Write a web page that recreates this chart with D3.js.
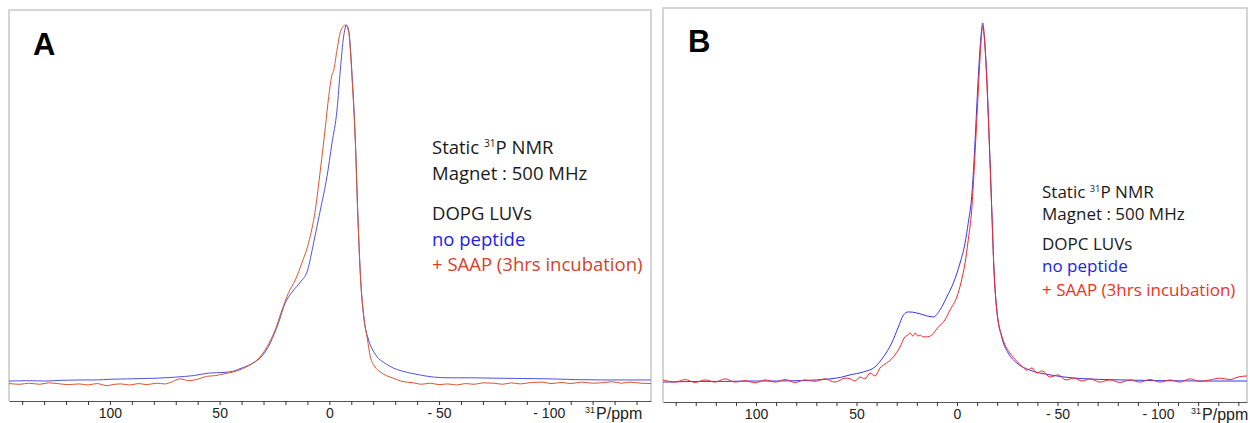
<html>
<head>
<script src="https://d3js.org/d3.v7.min.js"></script>
<style>
  body { margin: 0; background: #fff; }
  .tick text { font-family: "Liberation Sans", Arial, sans-serif; font-size: 14px; fill: #222; }
  .tick line { stroke: #333; }
  .domain { stroke: #555; }
  .legend { font-family: "Open Sans", sans-serif; }
</style>
</head>
<body>
<svg id="chart" width="1250" height="423"></svg>
<script>
// x ticks (ppm) and labelled ticks
const tickValues = d3.range(-140, 141, 10);
const tickLabels = [100, 50, 0, -50, -100];

// Panel A (DOPG LUVs) : [ppm, relative intensity]
const dopgNoPeptide = [
  [146, 1.1], [138, 1.2], [130, 1.1], [122, 1.3], [114, 1.4], [106, 1.4], [100, 1.6], [92, 1.7],
  [85, 1.8], [78, 1.9], [70, 2.2], [62, 2.6], [55, 3.3], [48, 3.5], [44, 3.8], [40, 4.7], [37, 5.4],
  [34, 6.4], [31.5, 7.5], [26.9, 11.7], [23.2, 17.2], [20.1, 22.8], [17, 25.8], [13.2, 28.6],
  [9.9, 31.9], [7.2, 39.4], [4.1, 48.6], [1.1, 57.8], [-1.2, 67.2], [-3.5, 76.4], [-5, 87.5],
  [-6.5, 96.7], [-7.8, 100], [-8.8, 98.6], [-10.4, 85.6], [-11.9, 67.2], [-12.9, 48.6], [-14.2, 30],
  [-15.7, 18.9], [-17.9, 12.5], [-20, 9.5], [-21.8, 7.8], [-23.3, 6.9], [-26, 5.8], [-29.2, 4.7],
  [-33, 3.9], [-37, 3.3], [-42, 2.7], [-47.5, 2.2], [-55, 2.0], [-65, 2.0], [-75, 1.9], [-88, 1.8],
  [-101, 1.7], [-112, 1.5], [-124, 1.4], [-135, 1.4], [-146.6, 1.4]
];
const dopgSaap = [
  [146, 0.4], [141, 0.2], [137, 0.5], [132, 0.2], [128, 0.6], [124, 0.4], [119, 0.1], [114, 0.3],
  [110, 0.0], [106, 0.4], [101, -0.2], [99, 0.1], [95, 0.3], [91, 0.0], [87, 0.4], [83, 0.1],
  [79, 0.5], [75, 0.3], [72, 0.8], [68, 1.7], [64, 1.2], [60, 1.6], [56, 2.4], [52, 2.6], [48, 3.1],
  [44, 3.6], [40, 4.4], [37, 5.3], [33, 6.9], [28.4, 10.6], [24.7, 15.3], [21.6, 20.8], [18.6, 25.6],
  [15.5, 29.2], [12.5, 33.9], [9.5, 39.4], [6.4, 48.6], [4.1, 59.7], [1.8, 71.7], [0.3, 80.1],
  [-1.2, 86.1], [-2, 87.5], [-3.5, 93.1], [-5.3, 98.6], [-7.4, 100], [-8.8, 98.1], [-10.4, 84.7],
  [-11.9, 66.7], [-12.9, 48.6], [-14.2, 30], [-15.7, 18.9], [-17.2, 13.3], [-18.7, 7.8], [-20.5, 5.3],
  [-23.3, 3.6], [-26, 2.6], [-29.2, 1.9], [-33, 1.0], [-38.4, 0.6], [-42, 0.2], [-46, 0.5], [-50, 0.1],
  [-54, 0.3], [-58, 0.0], [-62, 0.4], [-66, 0.2], [-70, 0.6], [-75, 0.5], [-79, 0.2], [-83, 0.6],
  [-87, 0.3], [-92, 0.7], [-97, 0.8], [-101, 0.4], [-106, 0.7], [-110, 0.4], [-115, 0.8], [-120, 0.5],
  [-124, 0.6], [-129, 0.9], [-133, 0.5], [-137, 0.8], [-142, 0.5], [-146.6, 0.4]
];

// Panel B (DOPC LUVs)
const dopcNoPeptide = [
  [146.3, 0.8], [138, 0.9], [128, 1.0], [115, 1.0], [103, 1.1], [90, 1.1], [78, 1.2], [70, 1.4],
  [63.2, 1.7], [58, 2.1], [53.2, 2.8], [46.6, 3.6], [40.8, 5], [36.7, 7.7], [32.5, 11.6], [29.2, 16],
  [26.7, 19.3], [24.2, 20.2], [20, 19.9], [15.1, 19.1], [11.8, 18.8], [8.5, 20.7], [5.1, 24.3],
  [1.8, 28.2], [-1.5, 33.7], [-4, 39.2], [-5.6, 44.8], [-7.3, 52], [-8.5, 62.2], [-9.5, 73.2],
  [-10.6, 85.2], [-11.9, 96.2], [-12.8, 100], [-13.6, 96.2], [-14.8, 85.2], [-16.1, 66.9],
  [-17.3, 48.3], [-18.4, 31.8], [-19.8, 20.7], [-22.2, 13.3], [-25.5, 8.8], [-29.7, 6.1],
  [-36.3, 4.1], [-46.3, 2.8], [-61.2, 1.8], [-81.1, 1.4], [-101, 1.2], [-120.9, 1.1], [-144.3, 1.1]
];
const dopcSaap = [
  [146.3, 1.4], [140.3, 0.8], [135.3, 1.5], [130.3, 0.7], [125.4, 1.4], [120.4, 0.8], [115.4, 1.7],
  [110.4, 0.8], [105.5, 1.2], [100.5, 0.6], [95.5, 1.4], [90.5, 0.8], [85.6, 1.5], [80.6, 0.7],
  [75.6, 1.4], [70.6, 1.0], [65.7, 1.7], [60.7, 0.8], [55.7, 1.9], [53.2, 1.7], [50.7, 1.1],
  [48.3, 2.2], [45.8, 1.7], [43.3, 3.3], [40.8, 2.5], [38.3, 4.7], [35, 6.1], [31.7, 7.7], [28.4, 10.5],
  [25.9, 13.3], [24.4, 13.8], [23.4, 14.4], [21.9, 13.5], [20.9, 14.4], [19.4, 13.5], [18.4, 13.8],
  [16.9, 13.3], [15.1, 13.3], [12.6, 13.8], [9.3, 16], [6, 18], [3.5, 20.7], [0.1, 24.3], [-2.3, 29],
  [-4, 33.7], [-5.6, 40.1], [-7.3, 48.3], [-8.8, 62.2], [-10.1, 76], [-11.4, 89.8], [-12.8, 99],
  [-13.6, 95.9], [-14.8, 84.3], [-16.1, 66.3], [-17.3, 48.3], [-18.4, 31.8], [-19.8, 20.7],
  [-23, 12.4], [-26.4, 8.8], [-29.7, 6.6], [-32.3, 5.2], [-34.7, 4.1], [-37.3, 4.7], [-39.7, 3.3],
  [-42.3, 3.9], [-46.3, 2.2], [-50.2, 2.8], [-54.2, 1.4], [-58.2, 1.9], [-62.2, 1.1], [-66.2, 1.7],
  [-71.1, 0.8], [-76.1, 1.4], [-81.1, 0.7], [-86.1, 1.4], [-91, 0.8], [-96, 1.5], [-101, 0.8],
  [-106, 1.4], [-110.9, 0.8], [-115.9, 1.7], [-120.9, 1.0], [-125.9, 1.4], [-130.8, 1.9],
  [-135.8, 1.5], [-139.8, 2.2], [-144.3, 2.5]
];

const legendA = ["DOPG LUVs", "no peptide", "+ SAAP (3hrs incubation)"];
const legendB = ["DOPC LUVs", "no peptide", "+ SAAP (3hrs incubation)"];

const svg = d3.select('svg#chart');

const panels = [
  {id: 'A', left: 9, right: 651, top: 10, bottom: 401, xDom: [146, -146.6], yTop: 25,
   series: [{d: dopgNoPeptide, c: '#5252dc'}, {d: dopgSaap, c: '#d9552f'}],
   letter: [33, 55], legend: legendA, lx: 432, lBase: [154, 180, 220, 246, 271], fs: 18.5,
   unit: 585, nameColors: ['#1a1a1a', '#2222dd', '#d9402a']},
  {id: 'B', left: 663, right: 1247, top: 8, bottom: 402, xDom: [146.3, -144.3], yTop: 23,
   series: [{d: dopcNoPeptide, c: '#3535f5'}, {d: dopcSaap, c: '#f02a2a'}],
   letter: [688, 52], legend: legendB, lx: 1042, lBase: [198, 220, 250, 272, 296], fs: 17,
   unit: 1191, nameColors: ['#1a1a1a', '#2222ee', '#ee3322']}
];

panels.forEach((p, i) => {
  const x = d3.scaleLinear().domain(p.xDom).range([p.left, p.right]);
  const y = d3.scaleLinear().domain([0, 100]).range([385, p.yTop]);

  // frame
  svg.append('path')
    .attr('d', `M${p.left},${p.bottom}V${p.top}H${p.right}V${p.bottom}`)
    .attr('fill', 'none').attr('stroke', '#c8c8c8').attr('stroke-width', 1.5);

  svg.append('clipPath').attr('id', 'clip' + i)
    .append('rect').attr('x', p.left).attr('y', p.top)
    .attr('width', p.right - p.left).attr('height', p.bottom - p.top);

  const line = d3.line().x(d => x(d[0])).y(d => y(d[1])).curve(d3.curveMonotoneX);
  p.series.forEach(s => {
    svg.append('path').datum(s.d)
      .attr('clip-path', `url(#clip${i})`)
      .attr('d', line)
      .attr('fill', 'none').attr('stroke', s.c).attr('stroke-width', 1);
  });

  // axis
  const axis = d3.axisBottom(x).tickValues(tickValues).tickSize(4).tickSizeOuter(0).tickPadding(3)
    .tickFormat(d => tickLabels.includes(d) ? (d < 0 ? '- ' + (-d) : d) : '');
  svg.append('g').attr('transform', `translate(0,${p.bottom})`).call(axis);

  const unit = svg.append('text').attr('x', p.unit).attr('y', p.bottom + 18)
    .attr('font-family', 'Liberation Sans, Arial, sans-serif').attr('fill', '#222');
  unit.append('tspan').attr('font-size', 9).attr('dy', -6).text('31');
  unit.append('tspan').attr('font-size', 16).attr('dy', 6).attr('dx', 1).text('P/ppm');

  // panel letter
  svg.append('text').attr('x', p.letter[0]).attr('y', p.letter[1])
    .attr('font-family', 'Liberation Sans, Arial, sans-serif').attr('font-weight', 'bold')
    .attr('font-size', 31).attr('fill', '#000').text(p.id);

  // annotation
  const g = svg.append('g').attr('class', 'legend').attr('font-size', p.fs);
  const t1 = g.append('text').attr('x', p.lx).attr('y', p.lBase[0]).attr('fill', '#1a1a1a');
  t1.append('tspan').text('Static ');
  t1.append('tspan').attr('font-size', p.fs * 0.55).attr('dy', -p.fs * 0.38).text('31');
  t1.append('tspan').attr('dy', p.fs * 0.38).text('P NMR');
  g.append('text').attr('x', p.lx).attr('y', p.lBase[1]).attr('fill', '#1a1a1a').text('Magnet : 500 MHz');
  p.legend.forEach((s, k) => {
    g.append('text').attr('x', p.lx).attr('y', p.lBase[k + 2]).attr('fill', p.nameColors[k]).text(s);
  });
});
</script>
</body>
</html>
